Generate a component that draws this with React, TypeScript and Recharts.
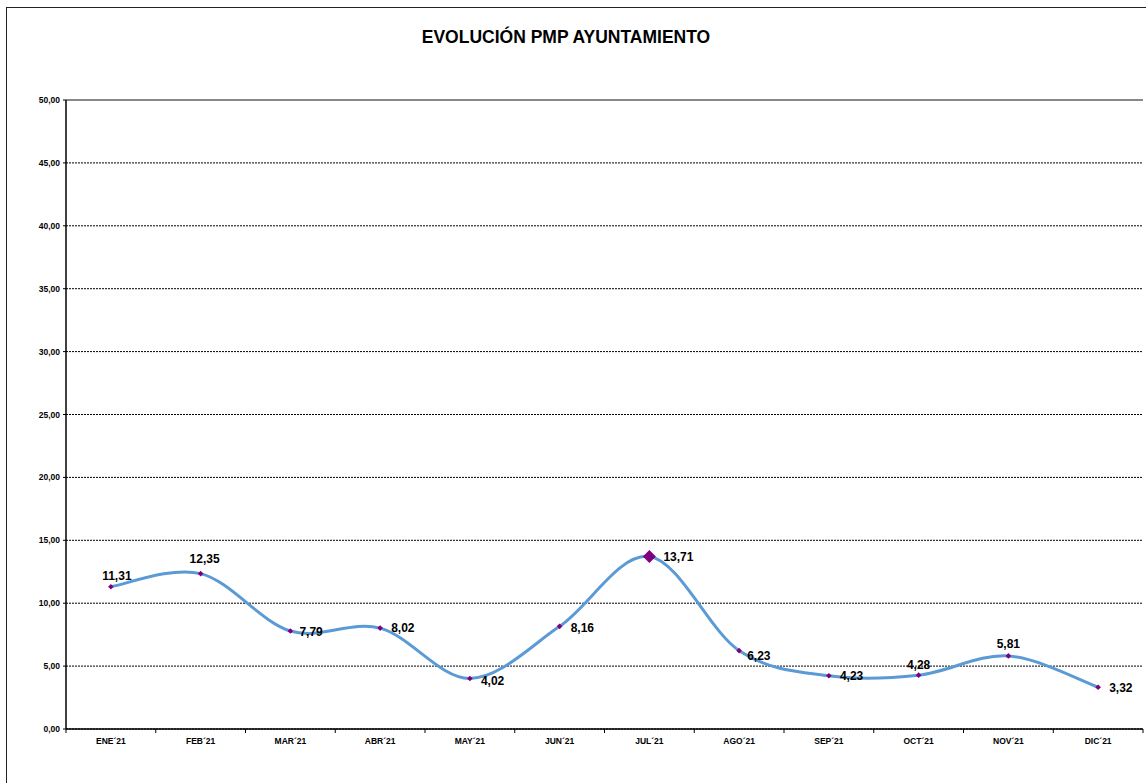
import React from 'react'
import { LineChart, Line, XAxis, YAxis, CartesianGrid, LabelList, ReferenceLine } from 'recharts'

const months = ['ENE´21', 'FEB´21', 'MAR´21', 'ABR´21', 'MAY´21', 'JUN´21', 'JUL´21', 'AGO´21', 'SEP´21', 'OCT´21', 'NOV´21', 'DIC´21']
const pmp = [11.31, 12.35, 7.79, 8.02, 4.02, 8.16, 13.71, 6.23, 4.23, 4.28, 5.81, 3.32]
const yTicks = [0, 5, 10, 15, 20, 25, 30, 35, 40, 45, 50]

const data = months.map((m, i) => ({ month: m, pmp: pmp[i] }))

// label offsets per point, like the original sheet (dx, dy, anchor)
const labelPos: [number, number, string][] = [
  [6, -11, 'middle'], [4, -15, 'middle'], [9, 1, 'start'], [11, 0, 'start'],
  [11, 2, 'start'], [11, 1, 'start'], [14, 0, 'start'], [8, 5, 'start'],
  [11, 0, 'start'], [0, -10, 'middle'], [0, -12, 'middle'], [11, 1, 'start'],
]

const W = 1146
const H = 783
const M = { top: 100, right: 3, bottom: 0, left: 0 }
const Y_W = 66
const X_H = 54
const band = (W - M.right - Y_W) / months.length
const FONT = '"Liberation Sans", Arial, sans-serif'

const fmt = (v: number) => v.toFixed(2).replace('.', ',')

// Excel-like smoothing (uniform Catmull-Rom)
function excelCurve(ctx: any) {
  let pts: number[][] = []
  return {
    areaStart() {},
    areaEnd() {},
    lineStart() { pts = [] },
    point(x: number, y: number) { pts.push([+x, +y]) },
    lineEnd() {
      const n = pts.length
      if (!n) return
      ctx.moveTo(pts[0][0], pts[0][1])
      for (let i = 0; i < n - 1; i++) {
        const p0 = pts[i - 1] || pts[i]
        const p1 = pts[i]
        const p2 = pts[i + 1]
        const p3 = pts[i + 2] || p2
        ctx.bezierCurveTo(
          p1[0] + (p2[0] - p0[0]) / 6, p1[1] + (p2[1] - p0[1]) / 6,
          p2[0] - (p3[0] - p1[0]) / 6, p2[1] - (p3[1] - p1[1]) / 6,
          p2[0], p2[1],
        )
      }
    },
  }
}

function Diamond(props: any) {
  const { cx, cy, index } = props
  const r = index === 6 ? 6.5 : 2.8
  return (
    <polygon
      key={index}
      points={`${cx},${cy - r} ${cx + r},${cy} ${cx},${cy + r} ${cx - r},${cy}`}
      fill="#7f007f"
    />
  )
}

function PointLabel(props: any) {
  const { x, y, index, value } = props
  const [dx, dy, anchor] = labelPos[index]
  return (
    <text x={x + dx} y={y + dy} dy="0.35em" textAnchor={anchor} fontFamily={FONT} fontWeight="bold" fontSize={12} fill="#000">
      {fmt(value)}
    </text>
  )
}

function MonthTick(props: any) {
  const { x, y, payload, index } = props
  return (
    <g>
      {index === 0 && <line x1={x - band / 2} x2={x - band / 2} y1={y} y2={y + 4} stroke="#000" />}
      <line x1={x + band / 2} x2={x + band / 2} y1={y} y2={y + 4} stroke="#000" />
      <text x={x} y={y + 15} textAnchor="middle" fontFamily={FONT} fontWeight="bold" fontSize={8.5} fill="#000">
        {payload.value}
      </text>
    </g>
  )
}

export default function App() {
  return (
    <div style={{ position: 'absolute', left: 0, top: 0, width: W, height: H, overflow: 'hidden', background: '#fff' }}>
      <div style={{ position: 'absolute', left: 6, top: 7, width: 1300, height: 900, border: '1.5px solid #222' }} />
      <div style={{
        position: 'absolute', left: 0, top: 27, width: 1132, textAlign: 'center',
        fontFamily: FONT, fontWeight: 'bold', fontSize: 17.5, color: '#000',
      }}>
        EVOLUCIÓN PMP AYUNTAMIENTO
      </div>
      <div style={{ position: 'absolute', left: 0, top: 0 }}>
        <LineChart width={W} height={H} data={data} margin={M}>
          <CartesianGrid vertical={false} stroke="#000" strokeDasharray="2 1" />
          <ReferenceLine y={50} stroke="#888" strokeWidth={2} />
          <XAxis
            dataKey="month"
            height={X_H}
            padding={{ left: band / 2, right: band / 2 }}
            axisLine={{ stroke: '#000', strokeWidth: 1.5 }}
            tickLine={false}
            tickSize={0}
            tickMargin={0}
            tick={<MonthTick />}
            interval={0}
          />
          <YAxis
            width={Y_W}
            domain={[0, 50]}
            ticks={yTicks}
            tickFormatter={fmt}
            axisLine={{ stroke: '#000', strokeWidth: 1.5 }}
            tickLine={{ stroke: '#000' }}
            tickSize={3}
            tickMargin={3}
            tick={{ fontFamily: FONT, fontWeight: 'bold', fontSize: 8.5, fill: '#000' }}
          />
          <YAxis yAxisId="right" orientation="right" width={0} tick={false} tickLine={false}
            axisLine={{ stroke: '#888', strokeWidth: 1.5 }} />
          <Line
            dataKey="pmp"
            type={excelCurve as any}
            stroke="#5b9bd5"
            strokeWidth={3}
            dot={<Diamond />}
            activeDot={false}
            isAnimationActive={false}
          >
            <LabelList dataKey="pmp" content={<PointLabel />} />
          </Line>
        </LineChart>
      </div>
    </div>
  )
}
